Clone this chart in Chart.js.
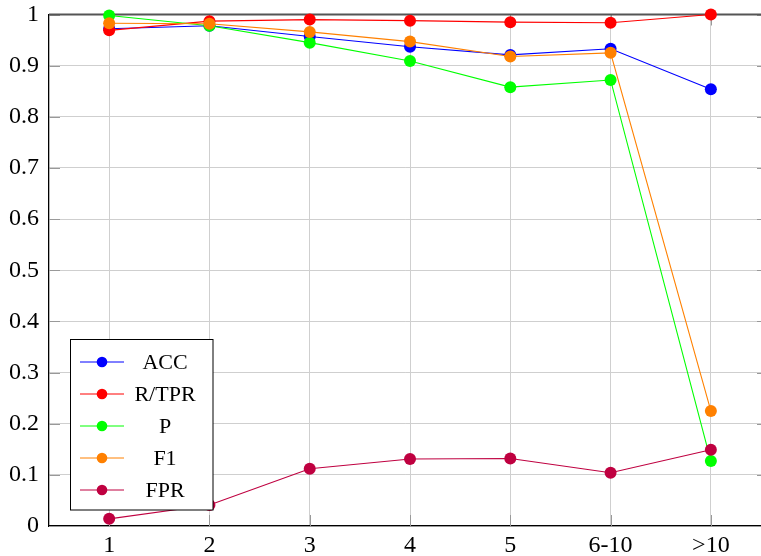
<!DOCTYPE html>
<html>
<head>
<meta charset="utf-8">
<script src="https://cdn.jsdelivr.net/npm/chart.js@4"></script>
<style>
  html, body { margin: 0; padding: 0; background: #fff; }
  #wrap { width: 761px; height: 556px; }
</style>
</head>
<body>
<div id="wrap"><canvas id="grafico"></canvas></div>
<script>
const categorias = ['1', '2', '3', '4', '5', '6-10', '>10'];
const acc  = [0.972, 0.978, 0.957, 0.937, 0.921, 0.933, 0.854];
const rtpr = [0.969, 0.987, 0.990, 0.988, 0.985, 0.984, 1.000];
const prec = [0.998, 0.978, 0.945, 0.909, 0.858, 0.872, 0.127];
const f1   = [0.983, 0.982, 0.966, 0.947, 0.918, 0.925, 0.225];
const fpr  = [0.014, 0.041, 0.112, 0.131, 0.132, 0.104, 0.149];
const yTicks = ['0', '0.1', '0.2', '0.3', '0.4', '0.5', '0.6', '0.7', '0.8', '0.9', '1'];

const fonte = '"Liberation Serif", "DejaVu Serif", serif';

function serie(label, valores, cor, ordem) {
  return {
    label: label,
    data: valores.map((v, i) => ({ x: i, y: v })),
    borderColor: cor,
    backgroundColor: cor,
    borderWidth: 1.1,
    pointRadius: 6,
    pointHoverRadius: 6,
    pointBorderWidth: 0,
    tension: 0,
    clip: false,
    order: ordem
  };
}

// marcas de escala curtas (estilo pgfplots) por cima da grade
const marcas = {
  id: 'marcas',
  beforeDatasetsDraw(chart) {
    const c = chart.ctx;
    const a = chart.chartArea;
    const sx = chart.scales.x, sy = chart.scales.y;
    c.save();
    c.strokeStyle = '#999';
    c.lineWidth = 1;
    c.beginPath();
    sy.ticks.forEach(t => {
      const y = Math.round(sy.getPixelForValue(t.value)) + 0.5;
      c.moveTo(a.left, y); c.lineTo(a.left + 11, y);
      c.moveTo(a.right, y); c.lineTo(a.right - 4, y);
    });
    sx.ticks.forEach(t => {
      const x = Math.round(sx.getPixelForValue(t.value)) + 0.5;
      c.moveTo(x, a.bottom); c.lineTo(x, a.bottom - 11);
      c.moveTo(x, a.top); c.lineTo(x, a.top + 11);
    });
    c.stroke();
    // borda superior
    c.strokeStyle = '#555';
    c.lineWidth = 2;
    c.beginPath();
    c.moveTo(a.left, a.top);
    c.lineTo(a.right, a.top);
    c.stroke();
    c.restore();
  }
};

// legenda desenhada dentro da área do gráfico, como no original
const legendaInterna = {
  id: 'legendaInterna',
  afterDraw(chart) {
    const c = chart.ctx;
    c.save();
    const x0 = 70.5, y0 = 339.5, w = 142.5, h = 170.5;
    c.fillStyle = '#fff';
    c.fillRect(x0, y0, w, h);
    c.strokeStyle = '#000';
    c.lineWidth = 1;
    c.strokeRect(x0, y0, w, h);
    c.font = '22px ' + fonte;
    c.textAlign = 'center';
    c.textBaseline = 'middle';
    chart.data.datasets.forEach((d, i) => {
      const y = 362 + i * 32;
      c.strokeStyle = d.borderColor;
      c.lineWidth = 1;
      c.beginPath();
      c.moveTo(80, y);
      c.lineTo(124, y);
      c.stroke();
      c.fillStyle = d.borderColor;
      c.beginPath();
      c.arc(102, y, 5.3, 0, Math.PI * 2);
      c.fill();
      c.fillStyle = '#000';
      c.fillText(d.label, 165, y + 1);
    });
    c.restore();
  }
};

const ctx = document.getElementById('grafico').getContext('2d');

const grafico = new Chart(ctx, {
  type: 'line',
  data: {
    datasets: [
      serie('ACC', acc, '#0000ff', 5),
      serie('R/TPR', rtpr, '#ff0000', 4),
      serie('P', prec, '#00ff00', 3),
      serie('F1', f1, '#ff8000', 2),
      serie('FPR', fpr, '#bf0040', 1)
    ]
  },
  options: {
    responsive: true,
    maintainAspectRatio: false,
    animation: false,
    layout: { autoPadding: false, padding: { top: 14.5, right: 0, left: 0, bottom: 0 } },
    plugins: {
      legend: { display: false },
      tooltip: { enabled: false }
    },
    scales: {
      x: {
        type: 'linear',
        min: -0.6,
        max: 6.5,
        afterFit(s) { s.height = 30; s.paddingRight = 0; s.paddingLeft = 0; },
        grid: { color: '#cfcfcf', lineWidth: 1, drawTicks: false },
        border: { color: '#000', width: 1.3 },
        ticks: {
          stepSize: 1,
          includeBounds: false,
          padding: 5,
          color: '#000',
          font: { family: fonte, size: 24 },
          callback: (v) => categorias[v]
        }
      },
      y: {
        min: 0,
        max: 1,
        afterFit(s) { s.width = 49; s.paddingTop = 0; s.paddingBottom = 0; },
        grid: { color: '#cfcfcf', lineWidth: 1, drawTicks: false },
        border: { color: '#000', width: 1.3 },
        ticks: {
          stepSize: 0.1,
          padding: 10,
          color: '#000',
          font: { family: fonte, size: 24 },
          callback: (v, i) => yTicks[i]
        }
      }
    }
  },
  plugins: [marcas, legendaInterna]
});
</script>
</body>
</html>
